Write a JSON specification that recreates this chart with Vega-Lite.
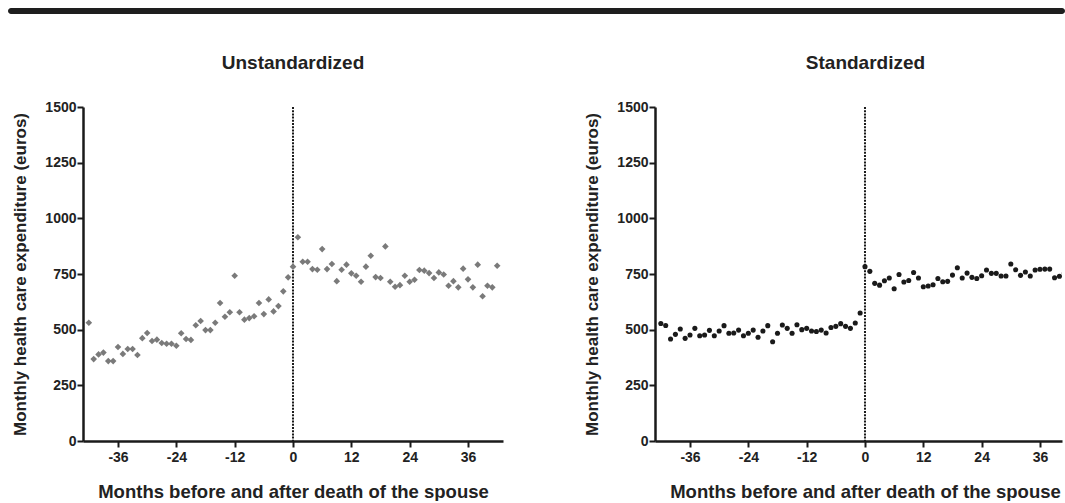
{
  "$schema": "https://vega.github.io/schema/vega-lite/v6.json",
  "background": "white",
  "padding": {"left": 8, "top": 8, "right": 0, "bottom": 0},
  "config": {
    "font": "Liberation Sans",
    "view": {"stroke": null},
    "axis": {
      "grid": false,
      "domainColor": "#1a1a1a",
      "domainWidth": 2.5,
      "tickColor": "#1a1a1a",
      "tickWidth": 2,
      "tickSize": 6,
      "labelPadding": 1,
      "labelFont": "Liberation Sans",
      "labelFontWeight": "bold",
      "labelFontSize": 14,
      "labelColor": "#222",
      "labelExpr": "'' + datum.value",
      "titleFont": "Liberation Sans",
      "titleFontWeight": "bold",
      "titleColor": "#222"
    },
    "axisX": {"labelPadding": 3},
    "title": {"font": "Liberation Sans", "fontSize": 19, "fontWeight": "bold", "color": "#222", "offset": 27}
  },
  "datasets": {
    "unstd": [
      {"month": -42, "value": 531}, {"month": -41, "value": 368}, {"month": -40, "value": 389}, {"month": -39, "value": 397},
      {"month": -38, "value": 359}, {"month": -37, "value": 359}, {"month": -36, "value": 422}, {"month": -35, "value": 391},
      {"month": -34, "value": 413}, {"month": -33, "value": 413}, {"month": -32, "value": 386}, {"month": -31, "value": 462},
      {"month": -30, "value": 485}, {"month": -29, "value": 449}, {"month": -28, "value": 455}, {"month": -27, "value": 440},
      {"month": -26, "value": 437}, {"month": -25, "value": 437}, {"month": -24, "value": 428}, {"month": -23, "value": 484},
      {"month": -22, "value": 458}, {"month": -21, "value": 454}, {"month": -20, "value": 520}, {"month": -19, "value": 539},
      {"month": -18, "value": 498}, {"month": -17, "value": 498}, {"month": -16, "value": 531}, {"month": -15, "value": 620},
      {"month": -14, "value": 558}, {"month": -13, "value": 578}, {"month": -12, "value": 742}, {"month": -11, "value": 578},
      {"month": -10, "value": 545}, {"month": -9, "value": 552}, {"month": -8, "value": 560}, {"month": -7, "value": 620},
      {"month": -6, "value": 570}, {"month": -5, "value": 636}, {"month": -4, "value": 582}, {"month": -3, "value": 606},
      {"month": -2, "value": 672}, {"month": -1, "value": 735}, {"month": 0, "value": 783}, {"month": 1, "value": 915},
      {"month": 2, "value": 805}, {"month": 3, "value": 805}, {"month": 4, "value": 772}, {"month": 5, "value": 769},
      {"month": 6, "value": 862}, {"month": 7, "value": 772}, {"month": 8, "value": 795}, {"month": 9, "value": 718},
      {"month": 10, "value": 769}, {"month": 11, "value": 792}, {"month": 12, "value": 753}, {"month": 13, "value": 742},
      {"month": 14, "value": 715}, {"month": 15, "value": 783}, {"month": 16, "value": 832}, {"month": 17, "value": 736},
      {"month": 18, "value": 732}, {"month": 19, "value": 874}, {"month": 20, "value": 715}, {"month": 21, "value": 693},
      {"month": 22, "value": 700}, {"month": 23, "value": 742}, {"month": 24, "value": 715}, {"month": 25, "value": 724},
      {"month": 26, "value": 768}, {"month": 27, "value": 765}, {"month": 28, "value": 754}, {"month": 29, "value": 732},
      {"month": 30, "value": 757}, {"month": 31, "value": 748}, {"month": 32, "value": 697}, {"month": 33, "value": 718},
      {"month": 34, "value": 690}, {"month": 35, "value": 774}, {"month": 36, "value": 726}, {"month": 37, "value": 690},
      {"month": 38, "value": 792}, {"month": 39, "value": 650}, {"month": 40, "value": 697}, {"month": 41, "value": 690},
      {"month": 42, "value": 787}
    ],
    "std": [
      {"month": -42, "value": 528}, {"month": -41, "value": 519}, {"month": -40, "value": 458}, {"month": -39, "value": 479},
      {"month": -38, "value": 503}, {"month": -37, "value": 461}, {"month": -36, "value": 476}, {"month": -35, "value": 506},
      {"month": -34, "value": 473}, {"month": -33, "value": 476}, {"month": -32, "value": 497}, {"month": -31, "value": 473},
      {"month": -30, "value": 494}, {"month": -29, "value": 518}, {"month": -28, "value": 484}, {"month": -27, "value": 485},
      {"month": -26, "value": 498}, {"month": -25, "value": 473}, {"month": -24, "value": 484}, {"month": -23, "value": 498},
      {"month": -22, "value": 466}, {"month": -21, "value": 494}, {"month": -20, "value": 518}, {"month": -19, "value": 446},
      {"month": -18, "value": 484}, {"month": -17, "value": 521}, {"month": -16, "value": 506}, {"month": -15, "value": 484},
      {"month": -14, "value": 522}, {"month": -13, "value": 500}, {"month": -12, "value": 506}, {"month": -11, "value": 494},
      {"month": -10, "value": 492}, {"month": -9, "value": 498}, {"month": -8, "value": 485}, {"month": -7, "value": 510},
      {"month": -6, "value": 515}, {"month": -5, "value": 527}, {"month": -4, "value": 515}, {"month": -3, "value": 506},
      {"month": -2, "value": 530}, {"month": -1, "value": 575}, {"month": 0, "value": 783}, {"month": 1, "value": 762},
      {"month": 2, "value": 708}, {"month": 3, "value": 700}, {"month": 4, "value": 720}, {"month": 5, "value": 732},
      {"month": 6, "value": 684}, {"month": 7, "value": 748}, {"month": 8, "value": 714}, {"month": 9, "value": 721},
      {"month": 10, "value": 757}, {"month": 11, "value": 732}, {"month": 12, "value": 693}, {"month": 13, "value": 696},
      {"month": 14, "value": 702}, {"month": 15, "value": 730}, {"month": 16, "value": 715}, {"month": 17, "value": 717},
      {"month": 18, "value": 745}, {"month": 19, "value": 778}, {"month": 20, "value": 732}, {"month": 21, "value": 754},
      {"month": 22, "value": 735}, {"month": 23, "value": 730}, {"month": 24, "value": 742}, {"month": 25, "value": 768},
      {"month": 26, "value": 753}, {"month": 27, "value": 753}, {"month": 28, "value": 741}, {"month": 29, "value": 741},
      {"month": 30, "value": 795}, {"month": 31, "value": 769}, {"month": 32, "value": 744}, {"month": 33, "value": 759},
      {"month": 34, "value": 741}, {"month": 35, "value": 768}, {"month": 36, "value": 771}, {"month": 37, "value": 772},
      {"month": 38, "value": 772}, {"month": 39, "value": 733}, {"month": 40, "value": 740}, {"month": 41, "value": 753},
      {"month": 42, "value": 755}
    ]
  },
  "spacing": 40,
  "vconcat": [
    {
      "data": {"values": [{"a": 0, "b": 1}]},
      "width": 982,
      "height": 6,
      "mark": {"type": "rect", "color": "#1e1e1e", "cornerRadius": 3},
      "encoding": {
        "x": {"field": "a", "type": "quantitative", "scale": {"domain": [0, 1], "range": [-75, 982]}, "axis": null},
        "x2": {"field": "b"}
      }
    },
    {
      "spacing": 80,
      "hconcat": [
        {
          "title": {"text": "Unstandardized"},
          "width": 420,
          "height": 334,
          "layer": [
            {
              "data": {"values": [{"m": 0}]},
              "mark": {"type": "rule", "color": "#1a1a1a", "strokeWidth": 2, "strokeDash": [2, 1.2]},
              "encoding": {"x": {"field": "m", "type": "quantitative"}}
            },
            {
              "data": {"name": "unstd"},
              "mark": {"type": "point", "shape": "diamond", "filled": true, "color": "#7a7a7a", "size": 44, "opacity": 1},
              "encoding": {
                "x": {"field": "month", "type": "quantitative",
                  "scale": {"domain": [-43.2, 43.2], "nice": false, "zero": false},
                  "axis": {"values": [-36, -24, -12, 0, 12, 24, 36], "title": "Months before and after death of the spouse", "titleFontSize": 18.5, "titlePadding": 18}},
                "y": {"field": "value", "type": "quantitative",
                  "scale": {"domain": [0, 1500], "nice": false},
                  "axis": {"values": [0, 250, 500, 750, 1000, 1250, 1500], "title": "Monthly health care expenditure (euros)", "titleFontSize": 17, "titlePadding": 15}}
              }
            }
          ]
        },
        {
          "title": {"text": "Standardized", "dx": 7},
          "width": 407,
          "height": 334,
          "layer": [
            {
              "data": {"values": [{"m": 0}]},
              "mark": {"type": "rule", "color": "#1a1a1a", "strokeWidth": 2, "strokeDash": [2, 1.2]},
              "encoding": {"x": {"field": "m", "type": "quantitative"}}
            },
            {
              "data": {"name": "std"},
              "mark": {"type": "point", "shape": "circle", "filled": true, "color": "#1a1a1a", "size": 26, "opacity": 1, "clip": true},
              "encoding": {
                "x": {"field": "month", "type": "quantitative",
                  "scale": {"domain": [-43.2, 40.53], "nice": false, "zero": false},
                  "axis": {"values": [-36, -24, -12, 0, 12, 24, 36], "title": "Months before and after death of the spouse", "titleFontSize": 18.5, "titlePadding": 18, "titleX": 210}},
                "y": {"field": "value", "type": "quantitative",
                  "scale": {"domain": [0, 1500], "nice": false},
                  "axis": {"values": [0, 250, 500, 750, 1000, 1250, 1500], "title": "Monthly health care expenditure (euros)", "titleFontSize": 17, "titlePadding": 15}}
              }
            }
          ]
        }
      ]
    }
  ]
}
